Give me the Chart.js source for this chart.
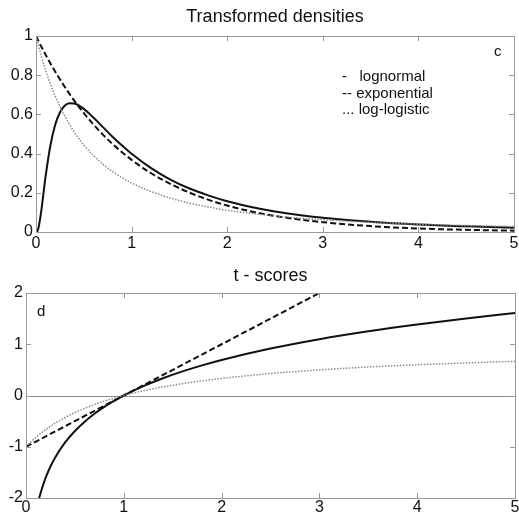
<!DOCTYPE html>
<html><head><meta charset="utf-8">
<script src="https://cdn.jsdelivr.net/npm/chart.js@4/dist/chart.umd.min.js"></script>
<style>
body{margin:0;background:#fff;width:519px;height:515px;overflow:hidden}
canvas{position:absolute;left:0}
#arriba{top:0}
#abajo{top:250px}
</style></head><body>
<canvas id="arriba" width="519" height="256"></canvas>
<canvas id="abajo" width="519" height="265"></canvas>
<script>
// Densidades transformadas
const xDens=[0,0.02,0.05,0.1,0.15,0.2,0.25,0.3,0.35,0.4,0.5,0.6,0.7,0.8,0.9,1,1.2,1.4,1.6,1.8,2,2.25,2.5,2.75,3,3.5,4,4.5,5];
const densLognormal=[0,0.010,0.090,0.282,0.440,0.546,0.610,0.644,0.657,0.656,0.628,0.584,0.535,0.486,0.441,0.399,0.327,0.269,0.223,0.187,0.157,0.128,0.105,0.087,0.073,0.052,0.038,0.029,0.022];
const densExponencial=[1,0.980,0.951,0.905,0.861,0.819,0.779,0.741,0.705,0.670,0.607,0.549,0.497,0.449,0.407,0.368,0.301,0.247,0.202,0.165,0.135,0.105,0.082,0.064,0.050,0.030,0.018,0.011,0.007];
const densLogLogistica=[1,0.961,0.907,0.826,0.756,0.694,0.640,0.592,0.549,0.510,0.444,0.391,0.346,0.309,0.277,0.250,0.207,0.174,0.148,0.128,0.111,0.095,0.082,0.071,0.063,0.049,0.040,0.033,0.028];

// t-scores
const xTLognormal=[0.135,0.15,0.2,0.25,0.3,0.4,0.5,0.6,0.7,0.8,0.9,1,1.2,1.4,1.6,1.8,2,2.5,3,3.5,4,4.5,5];
const tLognormal=[-2,-1.897,-1.609,-1.386,-1.204,-0.916,-0.693,-0.511,-0.357,-0.223,-0.105,0,0.182,0.336,0.470,0.588,0.693,0.916,1.099,1.253,1.386,1.504,1.609];
const xTExponencial=[0,1,2,3];
const tExponencial=[-1,0,1,2];
const xTLogLogistica=[0,0.1,0.2,0.3,0.4,0.5,0.6,0.7,0.8,0.9,1,1.2,1.4,1.6,1.8,2,2.5,3,3.5,4,4.5,5];
const tLogLogistica=[-1,-0.818,-0.667,-0.538,-0.429,-0.333,-0.25,-0.176,-0.111,-0.053,0,0.091,0.167,0.231,0.286,0.333,0.429,0.5,0.556,0.6,0.636,0.667];

const ticksX=[0,1,2,3,4,5];
const ticksDens=[0,0.2,0.4,0.6,0.8,1];
const ticksT=[-2,-1,0,1,2];

const fuente="'Liberation Sans', Arial, sans-serif";
const puntos=(xs,ys)=>xs.map((x,i)=>({x,y:ys[i]}));

// marco estilo matlab: caja, marcas hacia dentro, textos
const marco={
  id:"marco",
  beforeDatasetsDraw(chart,args,op){
    const {ctx,chartArea:a,scales:{y}}=chart;
    if(op.cero){
      ctx.save();ctx.strokeStyle="#8a8a8a";ctx.lineWidth=1;
      const py=Math.round(y.getPixelForValue(0))+0.5;
      ctx.beginPath();ctx.moveTo(a.left,py);ctx.lineTo(a.right,py);ctx.stroke();ctx.restore();
    }
  },
  afterDatasetsDraw(chart,args,op){
    const {ctx,chartArea:a,scales:{x,y}}=chart;
    ctx.save();
    ctx.strokeStyle="#999";ctx.lineWidth=1;
    ctx.strokeRect(a.left+0.5,a.top+0.5,a.right-a.left,a.bottom-a.top);
    ctx.beginPath();
    op.tx.forEach(v=>{
      const px=Math.round(x.getPixelForValue(v))+0.5;
      ctx.moveTo(px,a.bottom);ctx.lineTo(px,a.bottom-5);
      ctx.moveTo(px,a.top);ctx.lineTo(px,a.top+5);
    });
    op.ty.forEach(v=>{
      const py=Math.round(y.getPixelForValue(v))+0.5;
      ctx.moveTo(a.left,py);ctx.lineTo(a.left+5,py);
      ctx.moveTo(a.right,py);ctx.lineTo(a.right-5,py);
    });
    ctx.stroke();
    ctx.fillStyle="#111";ctx.font="15px "+fuente;ctx.textBaseline="middle";
    (op.textos||[]).forEach(t=>ctx.fillText(t[0],a.left+t[1],a.top+t[2]));
    ctx.restore();
  }
};

function grafico(id,titulo,padTit,conjuntos,yMin,yMax,ty,anchoY,altoX,padX,padDer,extra){
  return new Chart(document.getElementById(id),{
    type:"line",
    data:{datasets:conjuntos},
    options:{
      responsive:false,animation:false,
      layout:{padding:{left:0,right:padDer,top:0,bottom:0}},
      elements:{point:{radius:0},line:{cubicInterpolationMode:"monotone"}},
      scales:{
        x:{type:"linear",min:0,max:5,
          afterBuildTicks:s=>{s.ticks=ticksX.map(v=>({value:v}));},
          afterFit:s=>{s.height=altoX;s.paddingLeft=0;s.paddingRight=0;},
          ticks:{color:"#111",font:{family:fuente,size:16,lineHeight:1},padding:padX,maxRotation:0,autoSkip:false},
          grid:{display:false,drawTicks:false,tickLength:0},border:{display:false}},
        y:{type:"linear",min:yMin,max:yMax,
          afterBuildTicks:s=>{s.ticks=ty.map(v=>({value:v}));},
          afterFit:s=>{s.width=anchoY;s.paddingTop=0;s.paddingBottom=0;},
          ticks:{color:"#111",font:{family:fuente,size:16,lineHeight:1},padding:3,autoSkip:false,
            callback:v=>String(Math.round(v*10)/10)},
          grid:{display:false,drawTicks:false,tickLength:0},border:{display:false}}
      },
      plugins:{
        legend:{display:false},tooltip:{enabled:false},
        title:{display:true,text:titulo,fullSize:false,color:"#111",
          font:{family:fuente,size:18,weight:"normal"},padding:padTit},
        marco:Object.assign({tx:ticksX,ty:ty},extra)
      }
    },
    plugins:[marco]
  });
}

grafico("arriba","Transformed densities",{top:6,bottom:8.4},[
  {data:puntos(xDens,densLogLogistica),borderColor:"#8c8c8c",borderWidth:1.5,borderDash:[1.5,1.5]},
  {data:puntos(xDens,densExponencial),borderColor:"#111",borderWidth:2,borderDash:[6,3]},
  {data:puntos(xDens,densLognormal),borderColor:"#111",borderWidth:2}
],0,1,ticksDens,36,24,4,5,{textos:[
  ["c",458,16],
  ["-   lognormal",306,41],
  ["-- exponential",306,58],
  ["... log-logistic",306,74]
]});

grafico("abajo","t - scores",{top:15,bottom:6.4},[
  {data:puntos(xTLogLogistica,tLogLogistica),borderColor:"#8c8c8c",borderWidth:1.5,borderDash:[1.5,1.5]},
  {data:puntos(xTExponencial,tExponencial),borderColor:"#111",borderWidth:2,borderDash:[6,3]},
  {data:puntos(xTLognormal,tLognormal),borderColor:"#111",borderWidth:2}
],-2,2,ticksT,26,17,2,4,{cero:true,textos:[["d",11,19]]});
</script>
</body></html>
